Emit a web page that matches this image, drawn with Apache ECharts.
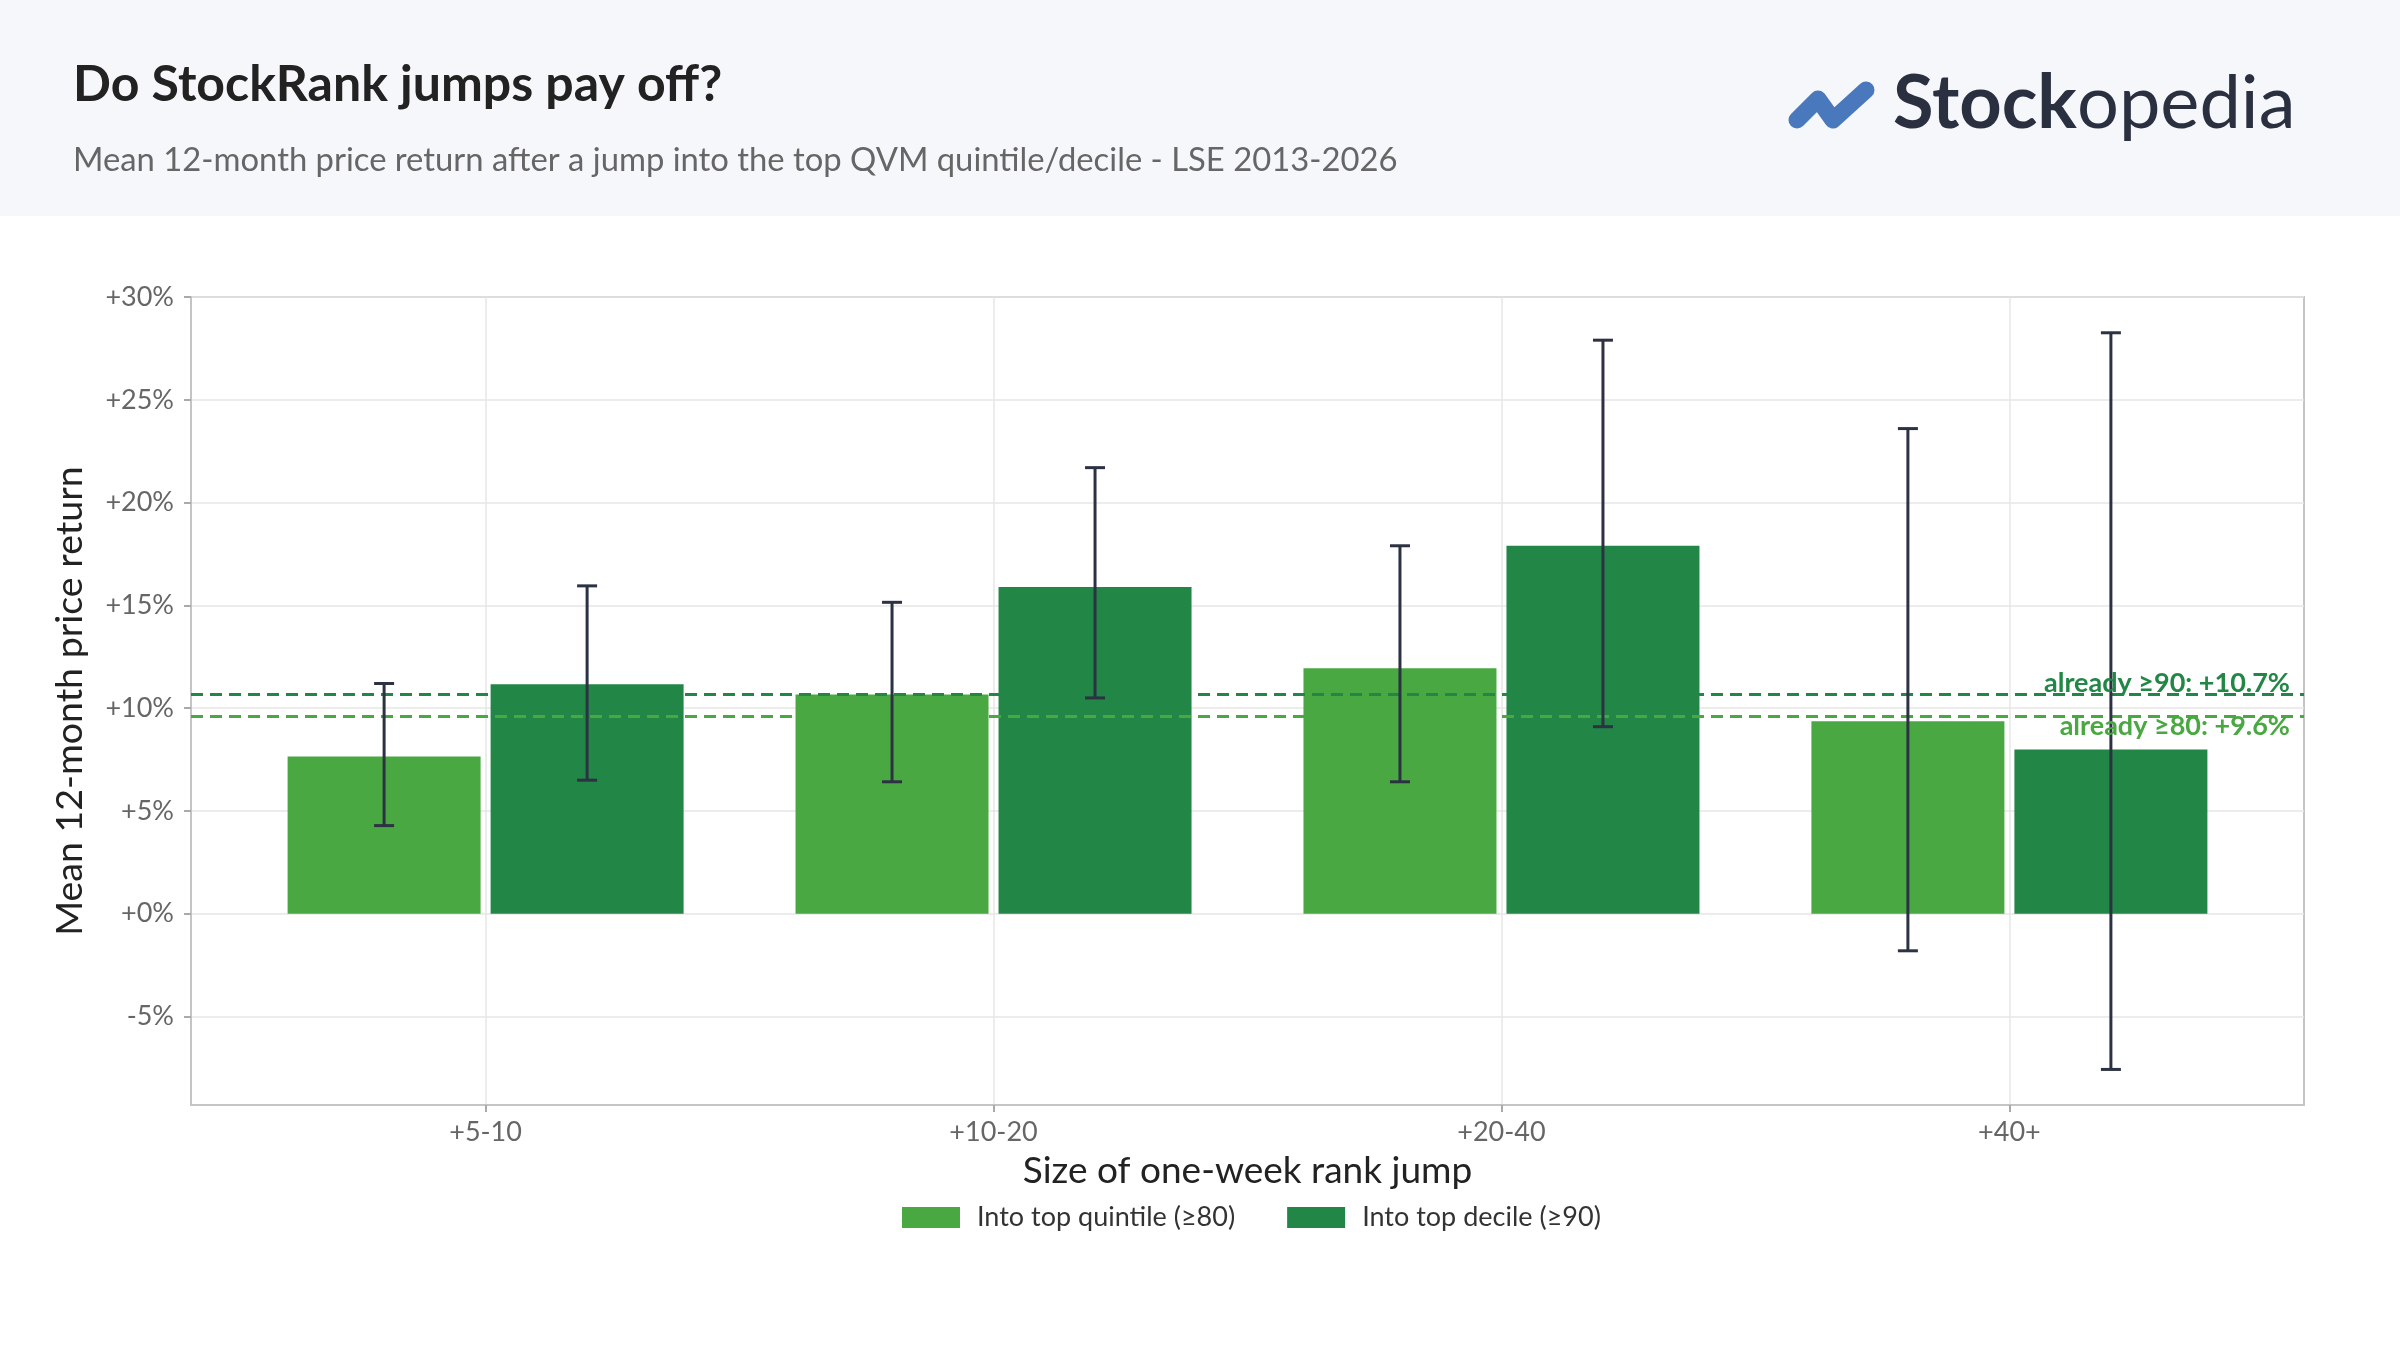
<!DOCTYPE html>
<html>
<head>
<meta charset="utf-8">
<title>Do StockRank jumps pay off?</title>
<script src="https://cdn.jsdelivr.net/npm/echarts@6/dist/echarts.min.js"></script>
<style>
  html, body { margin: 0; padding: 0; background: #fff; }
  #chart { width: 2400px; height: 1350px; }
</style>
</head>
<body>
<div id="chart"></div>
<script>
// data
const categories = ['+5-10', '+10-20', '+20-40', '+40+'];
const quintileMean = [7.65, 10.67, 11.94, 9.36];
const quintileLow = [4.29, 6.42, 6.42, -1.8];
const quintileHigh = [11.2, 15.15, 17.9, 23.6];
const decileMean = [11.16, 15.9, 17.9, 7.99];
const decileLow = [6.5, 10.5, 9.1, -7.57];
const decileHigh = [15.95, 21.7, 27.9, 28.26];
const baseline80 = 9.6;
const baseline90 = 10.7;
const yTicks = [-5, 0, 5, 10, 15, 20, 25, 30];

const LIGHT = '#4aa842';
const DARK = '#228746';
const BAR_W = 193;
const BAR_GAP = 10;
const FONT = 'Lato';

const chart = echarts.init(document.getElementById('chart'));

function errorBars(offset) {
  return function (params, api) {
    const x = api.value(0);
    const top = api.coord([x, api.value(2)]);
    const bot = api.coord([x, api.value(1)]);
    const cx = top[0] + offset;
    const cap = 10;
    const style = { stroke: '#2c3243', lineWidth: 3 };
    return {
      type: 'group',
      children: [
        { type: 'line', shape: { x1: cx, y1: top[1], x2: cx, y2: bot[1] }, style: style },
        { type: 'line', shape: { x1: cx - cap, y1: top[1], x2: cx + cap, y2: top[1] }, style: style },
        { type: 'line', shape: { x1: cx - cap, y1: bot[1], x2: cx + cap, y2: bot[1] }, style: style }
      ]
    };
  };
}

const half = (BAR_W + BAR_GAP) / 2;

chart.setOption({
  backgroundColor: '#ffffff',
  animation: false,
  textStyle: { fontFamily: FONT },
  graphic: [
    { type: 'rect', left: 0, top: 0, shape: { width: 2400, height: 216 }, style: { fill: '#f5f7fa' }, z: -10 },
    { type: 'text', left: 73, top: 60, style: { text: 'Do StockRank jumps pay off?', font: 'bold 50px Lato', fill: '#222222' } },
    { type: 'text', left: 73, top: 144, style: { text: 'Mean 12-month price return after a jump into the top QVM quintile/decile - LSE 2013-2026', font: '32.8px Lato', fill: '#666666' } },
    { type: 'polyline', shape: { points: [[1797, 120], [1818, 99], [1833, 120], [1866, 90]] },
      style: { stroke: '#4a78bd', lineWidth: 17, lineCap: 'round', lineJoin: 'round', fill: null } },
    { type: 'text', left: 1893, top: 67,
      style: {
        text: '{b|Stock}{r|opedia}',
        rich: {
          b: { font: 'bold 74px Lato', fill: '#2b3040' },
          r: { font: '74px Lato', fill: '#2b3040' }
        }
      } }
  ],
  legend: {
    data: ['Into top quintile (≥80)', 'Into top decile (≥90)'],
    left: 897,
    top: 1199,
    icon: 'rect',
    itemWidth: 58,
    itemHeight: 21,
    itemGap: 52,
    textStyle: { fontFamily: FONT, fontSize: 27, color: '#333333', padding: [0, 0, 0, 12] }
  },
  grid: {
    left: 191,
    top: 297,
    width: 2113,
    height: 808,
    show: true,
    borderColor: '#c4c4c4',
    borderWidth: 2,
    backgroundColor: 'transparent'
  },
  xAxis: {
    type: 'value',
    min: -0.58,
    max: 3.58,
    splitNumber: 4,
    name: 'Size of one-week rank jump',
    nameLocation: 'middle',
    nameGap: 48,
    nameTextStyle: { fontFamily: FONT, fontSize: 37, color: '#222222' },
    axisLine: { show: true, onZero: false, lineStyle: { color: '#c4c4c4', width: 2 } },
    axisTick: { show: true, customValues: [0, 1, 2, 3], length: 7, lineStyle: { color: '#aaaaaa', width: 2 } },
    axisLabel: {
      customValues: [0, 1, 2, 3],
      fontFamily: FONT, fontSize: 27, color: '#666666', margin: 14,
      formatter: function (v) { return Number.isInteger(v) ? categories[v] : ''; }
    },
    splitLine: { show: true, lineStyle: { color: '#e6e6e6', width: 1.5 } }
  },
  yAxis: {
    type: 'value',
    min: -9.3,
    max: 30,
    splitNumber: 8,
    name: 'Mean 12-month price return',
    nameLocation: 'middle',
    nameGap: 102,
    nameTextStyle: { fontFamily: FONT, fontSize: 37.5, color: '#222222' },
    axisLine: { show: true, onZero: false, lineStyle: { color: '#c4c4c4', width: 2 } },
    axisTick: { show: true, customValues: yTicks, length: 7, lineStyle: { color: '#aaaaaa', width: 2 } },
    axisLabel: {
      customValues: yTicks,
      fontFamily: FONT, fontSize: 27, color: '#666666', margin: 17,
      formatter: function (v) {
        if (v % 5 !== 0) return '';
        return (v >= 0 ? '+' : '') + v + '%';
      }
    },
    splitLine: { show: true, lineStyle: { color: '#e6e6e6', width: 1.5 } }
  },
  series: [
    {
      name: 'Into top quintile (≥80)',
      type: 'bar',
      barWidth: BAR_W,
      barGap: (BAR_GAP / BAR_W * 100).toFixed(2) + '%',
      itemStyle: { color: LIGHT },
      data: quintileMean.map((v, i) => [i, v]),
      markLine: {
        silent: true,
        symbol: 'none',
        lineStyle: { color: LIGHT, type: [12, 7], width: 3 },
        label: {
          position: 'insideEndBottom',
          formatter: 'already ≥80: +' + baseline80 + '%',
          fontFamily: FONT, fontSize: 27, fontWeight: 'bold', color: LIGHT,
          distance: [14, -4]
        },
        data: [{ yAxis: baseline80 }]
      }
    },
    {
      name: 'Into top decile (≥90)',
      type: 'bar',
      barWidth: BAR_W,
      itemStyle: { color: DARK },
      data: decileMean.map((v, i) => [i, v]),
      markLine: {
        silent: true,
        symbol: 'none',
        lineStyle: { color: DARK, type: [12, 7], width: 3 },
        label: {
          position: 'insideEndTop',
          formatter: 'already ≥90: +' + baseline90 + '%',
          fontFamily: FONT, fontSize: 27, fontWeight: 'bold', color: DARK,
          distance: [14, -3]
        },
        data: [{ yAxis: baseline90 }]
      }
    },
    {
      type: 'custom',
      z: 5,
      renderItem: errorBars(-half),
      encode: { x: 0, y: [1, 2] },
      data: quintileLow.map((v, i) => [i, v, quintileHigh[i]])
    },
    {
      type: 'custom',
      z: 5,
      renderItem: errorBars(half),
      encode: { x: 0, y: [1, 2] },
      data: decileLow.map((v, i) => [i, v, decileHigh[i]])
    }
  ]
});
</script>
</body>
</html>
